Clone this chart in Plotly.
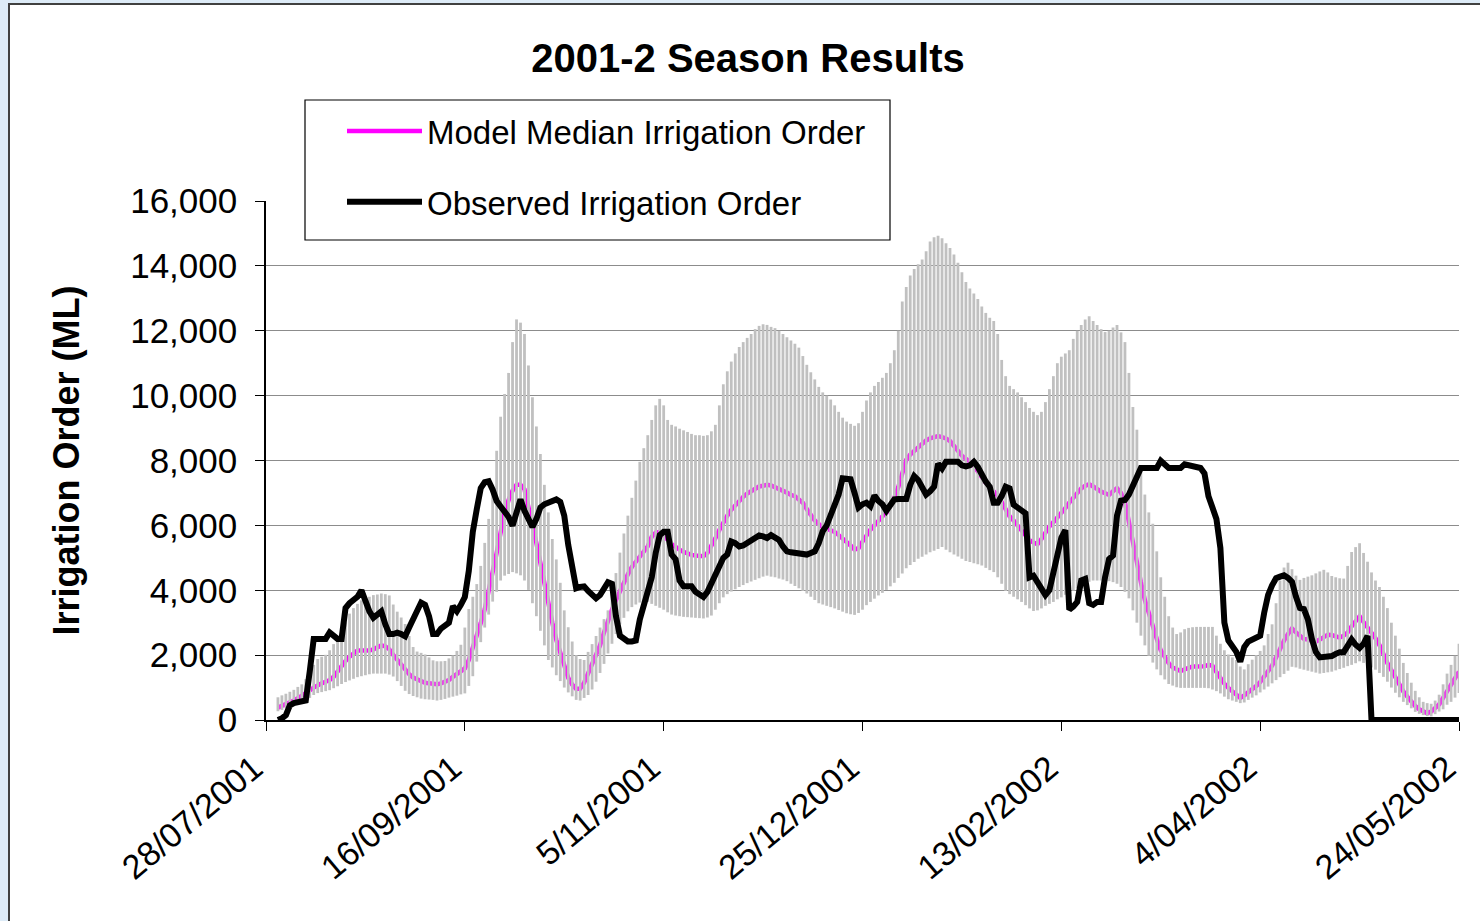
import pandas as pd
import plotly.graph_objects as go

TITLE = "2001-2 Season Results"
Y_TITLE = "Irrigation Order (ML)"
MEDIAN_NAME = "Model Median Irrigation Order"
OBSERVED_NAME = "Observed Irrigation Order"

# first daily value is 31/07/2001, last is 24/05/2002
START = "2001-07-31"

TICK_DATES = ["2001-07-28", "2001-09-16", "2001-11-05", "2001-12-25",
              "2002-02-13", "2002-04-04", "2002-05-24"]
TICK_TEXT = ["28/07/2001", "16/09/2001", "5/11/2001", "25/12/2001",
             "13/02/2002", "4/04/2002", "24/05/2002"]

# model range (top of grey high-low lines), ML per day
MODEL_HIGH = [
    700, 760, 810, 870, 930, 1020, 1100, 1260, 1480, 1700,
    1880, 1950, 2010, 2150, 2340, 2530, 2750, 3010, 3280, 3450,
    3580, 3690, 3750, 3800, 3850, 3870, 3900, 3880, 3840, 3560,
    3340, 3160, 2960, 2590, 2250, 2110, 2070, 2020, 1930, 1840,
    1810, 1810, 1820, 1900, 1990, 2130, 2320, 2850, 3420, 3800,
    4190, 4750, 5460, 6200, 7250, 8300, 9350, 10050, 10700, 11650,
    12350, 12250, 11900, 10930, 9950, 9050, 8200, 7250, 6400, 5580,
    4950, 4230, 3380, 2860, 2420, 2000, 1880, 1850, 2100, 2340,
    2590, 2850, 3110, 3380, 3910, 4530, 5160, 5750, 6300, 6850,
    7380, 7960, 8380, 8780, 9250, 9700, 9900, 9700, 9250, 9100,
    9050, 8980, 8930, 8880, 8820, 8780, 8780, 8760, 8780, 8900,
    9100, 9700, 10350, 10750, 11050, 11300, 11500, 11650, 11780, 11900,
    12050, 12150, 12200, 12180, 12120, 12080, 12000, 11900, 11800, 11700,
    11600, 11480, 11220, 10950, 10720, 10500, 10270, 10100, 10000, 9880,
    9700, 9500, 9320, 9200, 9130, 9070, 9150, 9500, 9850, 10100,
    10300, 10420, 10550, 10700, 11000, 11400, 12000, 12900, 13350, 13700,
    13900, 14050, 14200, 14450, 14750, 14880, 14930, 14850, 14700, 14550,
    14350, 14100, 13800, 13500, 13300, 13150, 12980, 12750, 12550, 12400,
    12300, 11900, 11100, 10600, 10300, 10200, 10100, 9950, 9800, 9620,
    9500, 9400, 9500, 9800, 10200, 10600, 11000, 11200, 11300, 11400,
    11750, 12000, 12180, 12350, 12450, 12300, 12180, 12050, 11960, 12000,
    12100, 12180, 11950, 11650, 10700, 9650, 8950, 7800, 6950, 6400,
    6050, 5200, 4400, 3800, 3200, 2850, 2650, 2700, 2800, 2840,
    2860, 2870, 2870, 2870, 2870, 2870, 2600, 2350, 2150, 2020,
    1930, 1850, 1650, 1560, 1720, 1860, 2000, 2130, 2300, 2650,
    2950, 3600, 4300, 4700, 4850, 4650, 4450, 4320, 4380, 4420,
    4460, 4520, 4580, 4630, 4550, 4440, 4400, 4370, 4360, 4750,
    5180, 5330, 5450, 5150, 4880, 4550, 4300, 4100, 3800, 3450,
    3000, 2600, 2200, 1760, 1450, 1150, 900, 700, 560, 520,
    500, 600, 780, 1100, 1430, 1700, 1980, 2350,
]

# model range (bottom of grey high-low lines)
MODEL_LOW = [
    270, 310, 360, 400, 440, 490, 540, 590, 680, 770,
    830, 860, 890, 920, 980, 1040, 1110, 1170, 1220, 1270,
    1320, 1350, 1380, 1410, 1430, 1430, 1430, 1430, 1400, 1340,
    1200, 1050, 900, 800, 740, 700, 660, 640, 630, 620,
    600, 620, 650, 690, 720, 750, 790, 820, 1050, 1350,
    1800, 2400, 2850, 3250, 3650, 3950, 4300, 4450, 4500, 4560,
    4520, 4460, 4300, 4010, 3600, 3200, 2750, 2300, 1850, 1620,
    1380, 1200, 1000, 850, 730, 620, 600, 680, 770, 940,
    1180, 1450, 1730, 2050, 2350, 2650, 2950, 3150, 3350, 3480,
    3560, 3620, 3680, 3640, 3580, 3520, 3460, 3400, 3320, 3250,
    3220, 3200, 3180, 3170, 3160, 3150, 3140, 3130, 3160, 3220,
    3400, 3600, 3780, 3880, 3960, 4030, 4100, 4160, 4220, 4270,
    4320, 4370, 4420, 4450, 4420, 4400, 4360, 4330, 4280, 4200,
    4130, 4060, 3980, 3900, 3800, 3700, 3600, 3560, 3520, 3480,
    3440, 3390, 3340, 3290, 3260, 3240, 3300, 3400, 3540, 3640,
    3740, 3840, 3920, 4010, 4120, 4230, 4380, 4520, 4680, 4780,
    4870, 4970, 5030, 5100, 5170, 5220, 5270, 5330, 5250, 5170,
    5100, 5040, 4970, 4900, 4870, 4830, 4800, 4760, 4690, 4620,
    4560, 4400, 4200, 3980, 3880, 3800, 3720, 3640, 3540, 3440,
    3360, 3380, 3440, 3520, 3580, 3640, 3720, 3780, 3860, 3920,
    3990, 4060, 4130, 4200, 4260, 4300, 4300, 4300, 4300, 4280,
    4250, 4200, 4100, 3950, 3750, 3380, 3000, 2600, 2300, 1980,
    1770, 1560, 1380, 1250, 1110, 1060, 1010, 990, 990, 990,
    990, 990, 990, 990, 980, 940, 890, 820, 720, 640,
    600, 560, 520, 540, 620, 690, 760, 850, 940, 1030,
    1130, 1230, 1320, 1420, 1520, 1640, 1620, 1580, 1550, 1520,
    1490, 1460, 1430, 1450, 1470, 1490, 1530, 1570, 1610, 1660,
    1700, 1750, 1810, 1760, 1700, 1620, 1550, 1450, 1330, 1180,
    1000, 840, 700, 560, 460, 360, 250, 190, 150, 120,
    110, 180, 260, 330, 470, 560, 690, 830,
]

MODEL_MEDIAN = [
    380, 430, 490, 550, 600, 670, 740, 820, 910, 1000,
    1080, 1130, 1180, 1230, 1330, 1500, 1680, 1820, 1950, 2060,
    2140, 2140, 2140, 2140, 2180, 2240, 2300, 2270, 2180, 2010,
    1850, 1700, 1550, 1410, 1310, 1250, 1190, 1150, 1130, 1110,
    1100, 1130, 1180, 1230, 1330, 1420, 1510, 1590, 1850, 2200,
    2570, 2990, 3410, 3950, 4500, 5150, 5780, 6380, 6780, 7070,
    7250, 7250, 7110, 6600, 6050, 5450, 4840, 4200, 3560, 3000,
    2470, 2060, 1600, 1300, 1090, 960, 970, 1150, 1440, 1740,
    2000, 2300, 2700, 3100, 3400, 3700, 3990, 4250, 4490, 4720,
    4870, 5030, 5200, 5350, 5650, 5780, 5800, 5700, 5560, 5420,
    5320, 5250, 5180, 5120, 5090, 5070, 5050, 5050, 5150, 5350,
    5600, 5860, 6120, 6300, 6480, 6620, 6740, 6880, 6980, 7060,
    7140, 7200, 7220, 7250, 7230, 7180, 7110, 7060, 7010, 6940,
    6900, 6800, 6700, 6500, 6300, 6150, 6040, 5940, 5900, 5850,
    5800, 5700, 5600, 5500, 5380, 5250, 5300, 5500, 5700, 5870,
    6000, 6160, 6280, 6380, 6580, 6840, 7180, 7600, 8020, 8180,
    8290, 8400, 8510, 8620, 8680, 8720, 8750, 8720, 8680, 8600,
    8450, 8290, 8150, 8050, 7970, 7840, 7650, 7440, 7310, 7180,
    7060, 6920, 6720, 6500, 6280, 6150, 5990, 5840, 5690, 5540,
    5470, 5420, 5580, 5780, 5970, 6100, 6230, 6360, 6530, 6700,
    6850, 7000, 7140, 7220, 7270, 7200, 7100, 7040, 6990, 6940,
    7050, 7150, 7000, 6720, 6100, 5450, 4820, 4250, 3700, 3270,
    2850, 2500, 2150, 1950, 1750, 1620, 1550, 1510, 1560, 1610,
    1650, 1650, 1650, 1660, 1700, 1670, 1480, 1280, 1120, 990,
    890, 760, 680, 760, 850, 950, 1050, 1170, 1340, 1520,
    1680, 1930, 2200, 2450, 2650, 2820, 2700, 2600, 2500, 2480,
    2450, 2420, 2480, 2560, 2630, 2620, 2580, 2540, 2600, 2700,
    2890, 3060, 3200, 3020, 2870, 2710, 2520, 2310, 2000, 1750,
    1540, 1310, 1100, 880, 720, 560, 430, 330, 250, 210,
    260, 380, 480, 680, 880, 1090, 1280, 1490,
]

OBSERVED = [
    0, 50, 150, 450, 520, 540, 550, 600, 1500, 2500,
    2500, 2500, 2500, 2700, 2600, 2500, 2500, 3450, 3600, 3720,
    3800, 4000, 3650, 3350, 3150, 3250, 3350, 2950, 2650, 2650,
    2690, 2650, 2580, 2850, 3130, 3450, 3620, 3550, 3200, 2650,
    2650, 2820, 2900, 3000, 3510, 3350, 3550, 3790, 4600, 5800,
    6500, 7150, 7330, 7360, 7100, 6750, 6580, 6420, 6260, 5990,
    6400, 6800, 6450, 6200, 5950, 6200, 6550, 6650, 6700, 6750,
    6800, 6720, 6300, 5400, 4600, 4060, 4100, 4120, 3980, 3850,
    3750, 3850, 4050, 4250, 4200, 3200, 2600, 2500, 2420, 2420,
    2450, 3100, 3500, 3900, 4400, 5150, 5700, 5800, 5800, 5100,
    4950, 4300, 4120, 4120, 4120, 3950, 3850, 3790, 3950, 4200,
    4500, 4800, 5000, 5100, 5500, 5450, 5350, 5380, 5460, 5540,
    5620, 5690, 5660, 5610, 5700, 5630, 5550, 5350, 5200, 5170,
    5160, 5140, 5120, 5100, 5150, 5200, 5450, 5820, 6000, 6350,
    6600, 6950, 7450, 7450, 7420, 7000, 6550, 6650, 6700, 6590,
    6920, 6750, 6650, 6450, 6600, 6800, 6810, 6810, 6810, 7250,
    7520, 7400, 7150, 6950, 7050, 7190, 7900, 7750, 7960, 7960,
    7960, 7960, 7850, 7820, 7850, 7960, 7800, 7550, 7350, 7190,
    6700, 6700, 6900, 7190, 7140, 6640, 6530, 6450, 6370, 4400,
    4450, 4250, 4050, 3850, 4000, 4600, 5200, 5620, 5850, 3400,
    3500, 3640, 4300, 4350, 3600, 3550, 3640, 3640, 4410, 4960,
    5070, 6300, 6760, 6780, 6950, 7200, 7500, 7770, 7770, 7770,
    7770, 7770, 7990, 7850, 7770, 7770, 7770, 7770, 7880, 7850,
    7800, 7770, 7770, 7600, 6900, 6550, 6200, 5300, 3000, 2450,
    2300, 2100, 1800, 2250, 2420, 2470, 2530, 2600, 3300, 3860,
    4150, 4370, 4420, 4460, 4380, 4260, 3800, 3450, 3420, 3100,
    2500, 2100, 1930, 1930, 1930, 1970, 2040, 2090, 2090, 2300,
    2480, 2320, 2220, 2350, 2590, 0, 0, 0, 0, 0,
    0, 0, 0, 0, 0, 0, 0, 0, 0, 0,
    0, 0, 0, 0, 0, 0, 0, 0,
]

assert len(MODEL_HIGH) == len(MODEL_LOW) == len(MODEL_MEDIAN) == len(OBSERVED)

FONT = "Liberation Sans, Arial, sans-serif"

# plot area in page pixels
L, R, T, B = 266, 1459, 201, 720


def px(x):
    return (x - L) / (R - L)


def py(y):
    return (B - y) / (B - T)


dates = pd.date_range(START, periods=len(OBSERVED), freq="D")

# grey high-low lines: one broken line, drawn over the median like Excel does
bar_x, bar_y = [], []
for d, lo, hi in zip(dates, MODEL_LOW, MODEL_HIGH):
    bar_x += [d, d, None]
    bar_y += [lo, hi, None]

fig = go.Figure()
fig.add_trace(go.Scatter(
    x=dates, y=MODEL_MEDIAN, name=MEDIAN_NAME, mode="lines",
    line={"color": "#FF00FF", "width": 4.5}, legendgroup="median",
))
fig.add_trace(go.Scatter(
    x=bar_x, y=bar_y, mode="lines", showlegend=False, hoverinfo="skip",
    line={"color": "#C0C0C0", "width": 2.8},
))
fig.add_trace(go.Scatter(
    x=dates, y=OBSERVED, name=OBSERVED_NAME, mode="lines",
    line={"color": "#000000", "width": 6}, legendgroup="observed",
))

fig.update_layout(
    width=1480,
    height=921,
    margin={"l": L, "r": 1480 - R, "t": T, "b": 921 - B, "pad": 0},
    paper_bgcolor="#DDEBF7",
    plot_bgcolor="rgba(0,0,0,0)",
    font={"family": FONT, "color": "#000000"},
    title={
        "text": "<b>" + TITLE + "</b>",
        "x": 748 / 1480, "xanchor": "center",
        "y": 1 - 58 / 921, "yanchor": "middle",
        "font": {"size": 40},
    },
    showlegend=True,
    legend={
        "x": px(342), "xanchor": "left",
        "y": py(103), "yanchor": "top",
        "bgcolor": "rgba(0,0,0,0)",
        "borderwidth": 0,
        "font": {"size": 33},
        "itemwidth": 75,
        "tracegroupgap": 25,
    },
    xaxis={
        "type": "date",
        "range": [TICK_DATES[0], TICK_DATES[-1]],
        "tickvals": TICK_DATES,
        "ticktext": TICK_TEXT,
        "tickangle": -40,
        "ticks": "outside",
        "ticklen": 9,
        "tickcolor": "#000000",
        "ticklabelstandoff": 4,
        "ticklabelshift": -12,
        "showline": True,
        "linecolor": "#000000",
        "linewidth": 1.5,
        "showgrid": False,
        "zeroline": False,
        "tickfont": {"size": 34},
    },
    yaxis={
        "range": [0, 16000],
        "dtick": 2000,
        "tickformat": ",d",
        "ticks": "outside",
        "ticklen": 9,
        "tickcolor": "#000000",
        "ticklabelstandoff": 11,
        "showline": True,
        "linecolor": "#000000",
        "linewidth": 1.5,
        "showgrid": True,
        "gridcolor": "#8C8C8C",
        "gridwidth": 1,
        "zeroline": False,
        "tickfont": {"size": 35},
        "title": {"text": "<b>" + Y_TITLE + "</b>", "font": {"size": 36}, "standoff": 40},
    },
    shapes=[
        # white chart area with its dark frame
        {
            "type": "rect", "xref": "paper", "yref": "paper", "layer": "below",
            "x0": px(9), "x1": px(1495), "y0": py(940), "y1": py(4),
            "fillcolor": "#FFFFFF", "line": {"color": "#404040", "width": 2},
        },
        # legend box, covering the top gridline
        {
            "type": "rect", "xref": "paper", "yref": "paper", "layer": "above",
            "x0": px(305), "x1": px(890), "y0": py(240), "y1": py(100),
            "fillcolor": "#FFFFFF", "line": {"color": "#000000", "width": 1.2},
        },
    ],
)

fig.write_html(
    "out.html",
    config={"displayModeBar": False},
    post_script="document.body.style.margin = '0';",
)
